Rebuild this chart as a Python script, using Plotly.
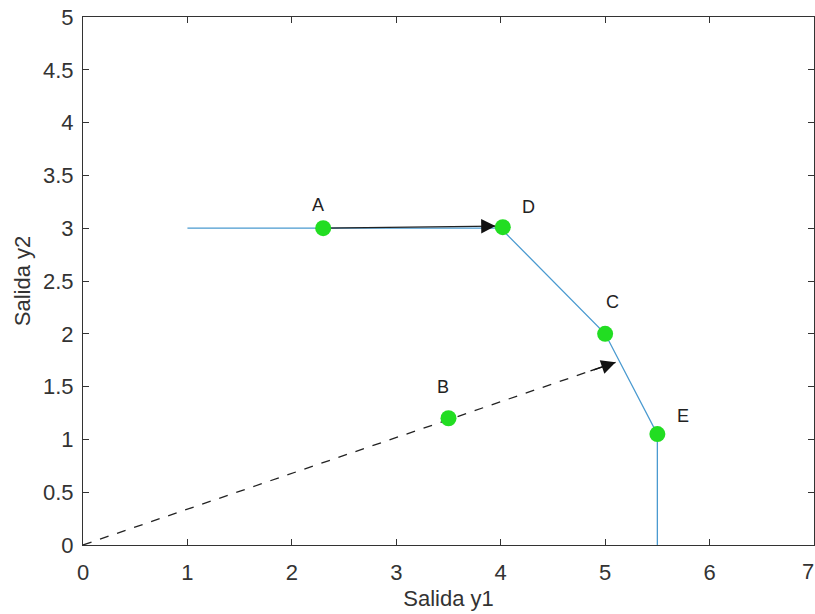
import plotly.graph_objects as go

# data
frontier_x = [1, 4, 5, 5.5, 5.5]
frontier_y = [3, 3, 2, 1.05, 0]
pt_names = ["A", "B", "C", "D", "E"]
pt_x = [2.3, 3.5, 5.0, 4.02, 5.5]
pt_y = [3.0, 1.2, 2.0, 3.01, 1.05]
lbl_x = [2.25, 3.45, 5.07, 4.27, 5.75]
lbl_y = [3.22, 1.5, 2.3, 3.2, 1.22]
arrow_solid = [2.3, 3.0, 3.95, 3.02]
arrow_dash = [0.0, 0.0, 5.1, 1.73]
x_ticks = [0, 1, 2, 3, 4, 5, 6]
x_edge_label = 7
y_ticks = [0, 0.5, 1, 1.5, 2, 2.5, 3, 3.5, 4, 4.5, 5]

FONT = "Liberation Sans, Arial"
TXT = "#333333"

fig = go.Figure()
fig.add_trace(go.Scatter(x=frontier_x, y=frontier_y, mode="lines",
                         line=dict(color="#4a9ad0", width=1.3), showlegend=False))
fig.add_trace(go.Scatter(x=[arrow_dash[0], arrow_dash[2]], y=[arrow_dash[1], arrow_dash[3]],
                         mode="lines", line=dict(color="#222222", width=1.3, dash="dash"),
                         showlegend=False))
fig.add_trace(go.Scatter(x=[arrow_solid[0], arrow_solid[2]], y=[arrow_solid[1], arrow_solid[3]],
                         mode="lines", line=dict(color="#222222", width=1.3),
                         showlegend=False))
fig.add_trace(go.Scatter(x=pt_x, y=pt_y, mode="markers",
                         marker=dict(color="#22dd22", size=16), showlegend=False))

for (x0, y0, x1, y1) in [arrow_solid, arrow_dash]:
    fig.add_annotation(x=x1, y=y1, ax=x1 - (x1 - x0) * 0.05, ay=y1 - (y1 - y0) * 0.05,
                       xref="x", yref="y", axref="x", ayref="y",
                       showarrow=True, arrowhead=2, arrowsize=2.2, arrowwidth=1.3,
                       arrowcolor="#111111", text="")

for n, x, y in zip(pt_names, lbl_x, lbl_y):
    fig.add_annotation(x=x, y=y, text=n, showarrow=False,
                       font=dict(family=FONT, size=18, color="#222222"))

# edge tick label "7" at the right edge of the page
fig.add_annotation(x=x_edge_label, y=0, xref="x", yref="paper", yanchor="top",
                   xanchor="right", xshift=2, yshift=-12, text=str(x_edge_label),
                   showarrow=False, font=dict(family=FONT, size=22, color=TXT))

axis_common = dict(showline=True, linecolor="#333333", linewidth=1, mirror="ticks",
                   ticks="inside", ticklen=6, tickcolor="#333333", showgrid=False,
                   zeroline=False,
                   tickfont=dict(family=FONT, size=22, color=TXT),
                   title_font=dict(family=FONT, size=22, color=TXT))
fig.update_xaxes(range=[0, 7], tickvals=x_ticks, title_text="Salida y1", title_standoff=6,
                 ticklabelstandoff=8, **axis_common)
fig.update_yaxes(range=[0, 5], tickvals=y_ticks, ticktext=[str(v) for v in y_ticks],
                 title_text="Salida y2", title_standoff=6, ticklabelstandoff=4,
                 **axis_common)
fig.update_layout(width=815, height=614, margin=dict(l=83, r=1, t=17, b=69),
                  plot_bgcolor="white", paper_bgcolor="white")
fig.write_html("out.html")
